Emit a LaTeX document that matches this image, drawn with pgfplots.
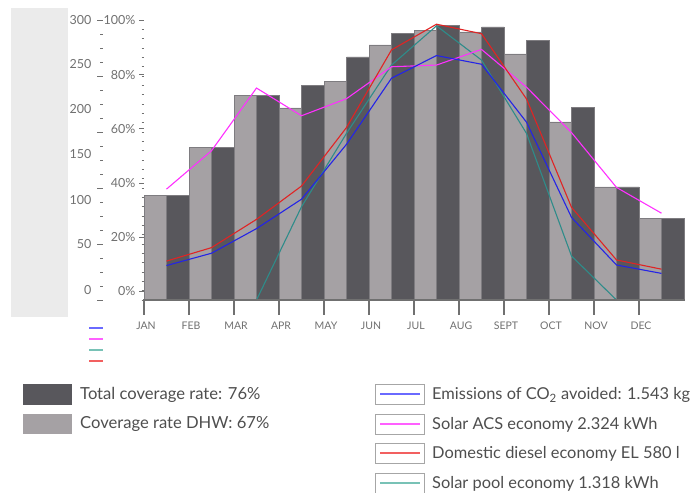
\documentclass[border=0pt]{standalone}
\usepackage{pgfplots}
\pgfplotsset{compat=1.18}
\usepackage{fontspec}
\setmainfont{Lato}
\definecolor{panel}{HTML}{EBEBEB}
\definecolor{darkbar}{HTML}{58575C}
\definecolor{lightbar}{HTML}{A5A1A4}
\definecolor{baredge}{HTML}{7E7C80}
\definecolor{tickgray}{HTML}{707070}
\definecolor{txtgray}{HTML}{4E4E4E}
\definecolor{lblue}{HTML}{2424E6}
\definecolor{lmag}{HTML}{FF30FF}
\definecolor{lred}{HTML}{E02424}
\definecolor{lteal}{HTML}{2E8C8A}
\definecolor{pblue}{HTML}{6A6AFF}
\definecolor{pmag}{HTML}{FF60FF}
\definecolor{pred}{HTML}{F26060}
\definecolor{pteal}{HTML}{78C2B6}
\pgfplotsset{
  yonly/.style={scale only axis, height=280pt, anchor=south west,
    xmin=0, xmax=1, ymin=0, ymax=100, width=10pt,
    axis x line=none, axis y line=left, y axis line style={draw=none},
    tick align=outside,
    /pgf/number format/assume math mode=true,
    tick style={draw=tickgray, line width=0.9pt},
    yticklabel style={font=\fontsize{12.5}{13}\selectfont, text=tickgray}},
}
\begin{document}
\begin{tikzpicture}
\path[use as bounding box] (0pt,0pt) rectangle (692pt,492pt);
\fill[panel] (11pt,484pt) rectangle (68pt,175pt);
% main axis with the data
\begin{axis}[
  at={(144pt,192pt)}, anchor=south west, scale only axis,
  width=540pt, height=280pt,
  xmin=0, xmax=12, ymin=0, ymax=100,
  axis x line=bottom, axis y line=none,
  x axis line style={-, draw=tickgray, line width=1.5pt},
  xtick={0,1,2,3,4,5,6,7,8,9,10,11},
  xticklabels={JAN,FEB,MAR,APR,MAY,JUN,JUL,AUG,SEPT,OCT,NOV,DEC},
  tick align=outside, major tick length=14pt,
  tick style={draw=tickgray, line width=1.3pt},
  xticklabel style={font=\fontsize{10.5}{11}\selectfont, text=tickgray, xshift=2pt, yshift=-4pt},
  clip=false,
]
\addplot[ybar, bar width=0.5, bar shift=0pt, fill=lightbar, draw=baredge, line width=0.5pt]
 coordinates {(0.25,37.3) (1.25,54.5) (2.25,73.2) (3.25,68.6) (4.25,78.2) (5.25,91.1)
   (6.25,96.4) (7.25,95.8) (8.25,87.9) (9.25,63.6) (10.25,40.4) (11.25,29.2)};
\addplot[ybar, bar width=0.5, bar shift=0pt, fill=darkbar, draw=baredge, line width=0.5pt]
 coordinates {(0.75,37.3) (1.75,54.5) (2.75,73.2) (3.75,76.7) (4.75,86.8) (5.75,95.2)
   (6.75,98.1) (7.75,97.5) (8.75,92.6) (9.75,68.8) (10.75,40.4) (11.75,29.2)};
% Solar pool economy
\addplot[lteal, line width=1.1pt, mark=none]
 coordinates {(2.5,0) (3.5,33.3) (4.5,59.5) (5.5,83.9) (6.5,97.9) (7.5,85.7)
   (8.5,59.5) (9.5,15.7) (10.5,0)};
% Solar ACS economy
\addplot[lmag, line width=1.1pt, mark=none]
 coordinates {(0.5,39.6) (1.5,53.3) (2.5,75.7) (3.5,65.8) (4.5,71.9) (5.5,83.3)
   (6.5,83.9) (7.5,89.5) (8.5,76.0) (9.5,59.8) (10.5,40.2) (11.5,31.0)};
% Emissions of CO2 avoided
\addplot[lblue, line width=1.1pt, mark=none]
 coordinates {(0.5,12.3) (1.5,16.7) (2.5,25.5) (3.5,36.0) (4.5,55.6) (5.5,79.2)
   (6.5,87.3) (7.5,84.2) (8.5,63.5) (9.5,29.5) (10.5,12.5) (11.5,9.5)};
% Domestic diesel economy
\addplot[lred, line width=1.1pt, mark=none]
 coordinates {(0.5,13.9) (1.5,18.7) (2.5,28.8) (3.5,40.7) (4.5,61.6) (5.5,89.3)
   (6.5,98.5) (7.5,95.1) (8.5,71.8) (9.5,33.1) (10.5,14.3) (11.5,11.0)};
\end{axis}
% month tick marks and base line, drawn as plain decoration below the plot
\foreach \m in {0,1,2,3,4,5,6,7,8,9,10,11}{
  \draw[color=tickgray, line width=1.3pt] ({144pt+45pt*\m},177pt) -- ({144pt+45pt*\m},192pt);
}
\draw[color=tickgray, line width=1.5pt] (143pt,192pt) -- (685pt,192pt);
% percent scale next to the plot
\begin{axis}[yonly, at={(144pt,192pt)},
  ytick={3.2,22.5,41.8,61.2,80.5,100},
  yticklabels={0\%,20\%,40\%,60\%,80\%,100\%},
  minor ytick={0,3.3333,6.6667,10,13.3333,16.6667,20,23.3333,26.6667,30,33.3333,36.6667,40,43.3333,46.6667,50,53.3333,56.6667,60,63.3333,66.6667,70,73.3333,76.6667,80,83.3333,86.6667,90,93.3333,96.6667,100},
  major tick length=5pt, minor tick length=2.5pt]
\end{axis}
% outer tick column
\begin{axis}[yonly, at={(103pt,192pt)},
  ytick={0,20,40,60,80,100}, yticklabels={},
  minor ytick={0,5,...,100},
  major tick length=6pt, minor tick length=3pt]
\end{axis}
% 0..300 labels
\begin{axis}[yonly, at={(103pt,192pt)},
  ytick={3.6,20,35.7,52.1,68.2,84.3,100},
  yticklabels={0,50,100,150,200,250,300},
  major tick style={draw=none}, major tick length=0pt,
  yticklabel style={xshift=-8pt}]
\end{axis}
% small coloured dashes
\draw[pblue, line width=1.2pt] (89pt,164pt) -- (103pt,164pt);
\draw[pmag, line width=1.2pt] (89pt,153pt) -- (103pt,153pt);
\draw[pteal, line width=1.2pt] (89pt,142pt) -- (103pt,142pt);
\draw[pred, line width=1.2pt] (89pt,131pt) -- (103pt,131pt);
% legend, bars
\fill[darkbar] (23pt,87pt) rectangle (72pt,108pt);
\fill[lightbar] (23pt,58pt) rectangle (72pt,78pt);
\begin{scope}[every node/.style={anchor=west, inner sep=0pt, text=txtgray, font=\fontsize{16.6}{17}\selectfont}]
\node at (80pt,97.5pt) {Total coverage rate: 76\%};
\node at (80pt,68pt) {Coverage rate DHW: 67\%};
\end{scope}
\begin{scope}[every node/.style={anchor=west, inner sep=0pt, text=txtgray, font=\fontsize{16.4}{17}\selectfont}]
\node at (432pt,97pt) {Emissions of CO\textsubscript{2} avoided: 1.543 kg};
\node at (432pt,67.5pt) {Solar ACS economy 2.324 kWh};
\node at (432pt,38pt) {Domestic diesel economy EL 580 l};
\node at (432pt,8.5pt) {Solar pool economy 1.318 kWh};
\end{scope}
% legend, lines
\foreach \yb/\col in {88/pblue, 58/pmag, 29/pred, -1/pteal}{
  \draw[draw=gray!70, line width=0.9pt, fill=white] (375pt,\yb pt) rectangle (424pt,\yb pt+20pt);
  \draw[\col, line width=1.2pt] (380pt,\yb pt+10pt) -- (420pt,\yb pt+10pt);
}
\end{tikzpicture}
\end{document}
